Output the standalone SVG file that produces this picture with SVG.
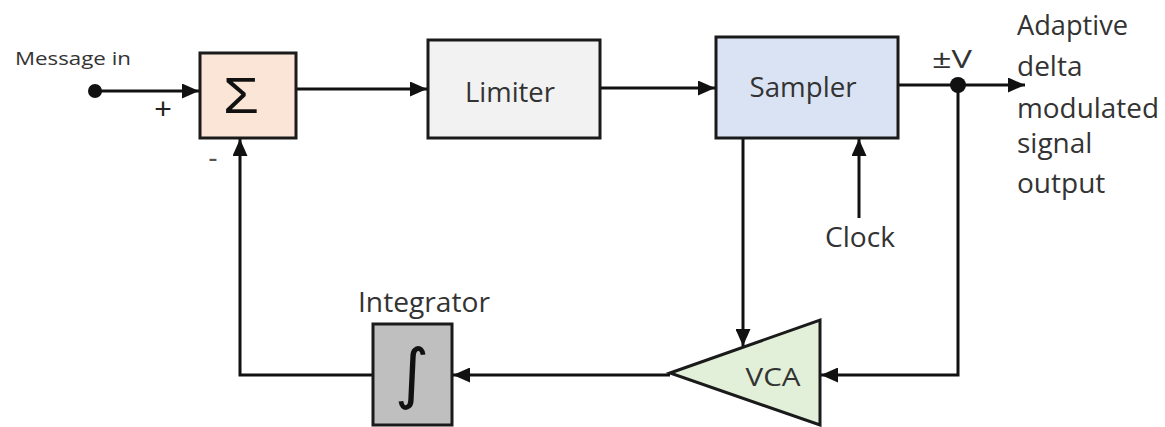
<svg xmlns="http://www.w3.org/2000/svg" width="1165" height="427" viewBox="0 0 1165 427">
<defs>
<style>
.box{stroke:#1a1a1a;stroke-width:3}
.ln{stroke:#111;stroke-width:3;fill:none}
.t{font-family:"Open Sans","Liberation Sans",sans-serif;fill:#333}
</style>
<marker id="arr" viewBox="0 0 17 15" refX="17" refY="7.5" markerWidth="17" markerHeight="15" markerUnits="userSpaceOnUse" orient="auto">
<path d="M0,0 L17,7.5 L0,15 z" fill="#111"/>
</marker>
</defs>
<rect width="1165" height="427" fill="#fff"/>

<g id="connectors">
<path class="ln" d="M95,91 H199" marker-end="url(#arr)"/>
<path class="ln" d="M296,89 H427" marker-end="url(#arr)"/>
<path class="ln" d="M600,88 H715" marker-end="url(#arr)"/>
<path class="ln" d="M898,85 H1025" marker-end="url(#arr)"/>
<path class="ln" d="M958,85 V375 H821" marker-end="url(#arr)"/>
<path class="ln" d="M859,218 V139" marker-end="url(#arr)"/>
<path class="ln" d="M743,138 V346" marker-end="url(#arr)"/>
<path class="ln" d="M670,375 H453" marker-end="url(#arr)"/>
<path class="ln" d="M373,375 H240 V139" marker-end="url(#arr)"/>
<circle cx="95" cy="91" r="7" fill="#111"/>
<circle cx="958" cy="85" r="8" fill="#111"/>
</g>

<g id="message-in">
<text class="t" x="15" y="65" font-size="19" textLength="116" lengthAdjust="spacingAndGlyphs">Message in</text>
<text x="163" y="119" font-size="30" text-anchor="middle" font-family="'Liberation Sans',sans-serif" fill="#222">+</text>
<text x="213" y="167" font-size="28" text-anchor="middle" font-family="'Liberation Sans',sans-serif" fill="#555">-</text>
</g>

<g id="sum">
<rect class="box" x="200" y="53" width="96" height="85" fill="#fbe5d6"/>
<text x="241" y="113" font-size="50" text-anchor="middle" font-family="'Liberation Sans',sans-serif" fill="#111" textLength="36" lengthAdjust="spacingAndGlyphs">Σ</text>
</g>

<g id="limiter">
<rect class="box" x="428" y="40" width="172" height="98" fill="#f2f2f2"/>
<text class="t" x="510" y="102" font-size="27" text-anchor="middle" textLength="90" lengthAdjust="spacingAndGlyphs">Limiter</text>
</g>

<g id="sampler">
<rect class="box" x="716" y="37" width="182" height="101" fill="#dae3f3"/>
<text class="t" x="803" y="97" font-size="27" text-anchor="middle" textLength="107" lengthAdjust="spacingAndGlyphs">Sampler</text>
</g>

<g id="output-label">
<text class="t" x="952" y="68" font-size="26" text-anchor="middle" textLength="40" lengthAdjust="spacingAndGlyphs">±V</text>
<text class="t" x="1017" y="35" font-size="28" textLength="111" lengthAdjust="spacingAndGlyphs">Adaptive</text>
<text class="t" x="1017" y="76" font-size="28">delta</text>
<text class="t" x="1017" y="118" font-size="28" textLength="142" lengthAdjust="spacingAndGlyphs">modulated</text>
<text class="t" x="1017" y="153" font-size="28">signal</text>
<text class="t" x="1017" y="193" font-size="28">output</text>
</g>

<g id="clock">
<text class="t" x="860" y="247" font-size="27" text-anchor="middle" textLength="70" lengthAdjust="spacingAndGlyphs">Clock</text>
</g>

<g id="vca">
<polygon class="box" points="670,373 820,320 820,425" fill="#e2f0d9" stroke-linejoin="miter"/>
<text class="t" x="773" y="386" font-size="26" text-anchor="middle" textLength="55" lengthAdjust="spacingAndGlyphs">VCA</text>
</g>

<g id="integrator">
<text class="t" x="424" y="312" font-size="28" text-anchor="middle" textLength="132" lengthAdjust="spacingAndGlyphs">Integrator</text>
<rect class="box" x="373" y="324" width="79" height="101" fill="#bfbfbf"/>
<text x="412" y="396" font-size="66" text-anchor="middle" font-family="'DejaVu Sans',sans-serif" fill="#111">∫</text>
</g>
</svg>
